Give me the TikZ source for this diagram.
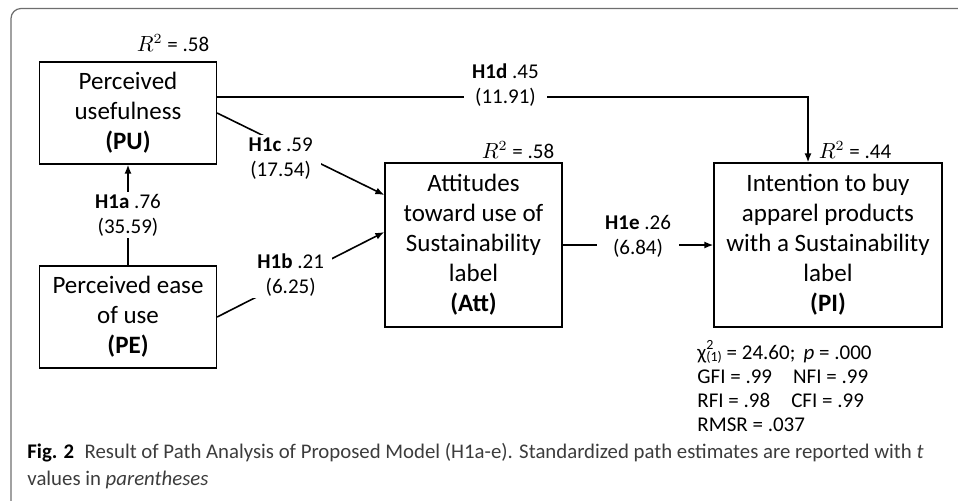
\documentclass[tikz,border=0pt]{standalone}
\usepackage{amsmath}
\usepackage{fontspec}
\setmainfont{Carlito}
\usepackage{tikz}
\usetikzlibrary{arrows.meta,calc}
\definecolor{framegray}{RGB}{110,110,110}
\definecolor{captext}{RGB}{60,60,60}
\tikzset{
  frame/.style={draw=framegray,line width=0.6pt,rounded corners=5pt},
  construct/.style={draw=black,line width=0.6pt,align=center,inner sep=0pt,
                    minimum width=88.5pt,minimum height=51pt,
                    font=\fontsize{12.5}{15}\selectfont},
  tall/.style={construct,minimum height=82pt},
  path/.style={black,line width=0.8pt,-{Latex[length=4.5pt,width=3.5pt]}},
  est/.style={fill=white,align=center,inner xsep=4pt,inner ysep=1pt,
              font=\fontsize{10.5}{12.5}\selectfont},
  rsq/.style={font=\fontsize{10.5}{12.5}\selectfont},
}
\begin{document}
\begin{tikzpicture}[x=0.5pt,y=-0.5pt]
  \path[use as bounding box] (0,0) rectangle (958,500);
  \draw[frame] (11,8.5) rectangle (1000,540);

  % constructs
  \node[construct] (PU) at (128,113) {Perceived\\usefulness\\\textbf{(PU)}};
  \node[construct] (PE) at (128,317) {Perceived ease\\of use\\\textbf{(PE)}};
  \node[tall] (Att) at (473.5,245)
    {Attitudes\\toward use of\\Sustainability\\label\\\textbf{(Att)}};
  \node[tall,minimum width=114pt] (PI) at (828,245)
    {Intention to buy\\apparel products\\with a Sustainability\\label\\\textbf{(PI)}};

  \node[rsq] (rPU) at (173,43) {$R^2$ = .58};
  \node[rsq] (rAtt) at (518,150) {$R^2$ = .58};
  \node[rsq] (rPI) at (855,150) {$R^2$ = .44};

  % paths
  \draw[path] (PE.north) -- (PU.south)
    node[est,midway] {\textbf{H1a} .76\\(35.59)};
  \draw[path] (PE.east) -- ([yshift=6.5pt]Att.west)
    node[est,pos=0.44,yshift=2.5pt] {\textbf{H1b} .21\\(6.25)};
  \draw[path] (PU.east) -- ([yshift=25pt]Att.west)
    node[est,pos=0.38,yshift=-7pt] {\textbf{H1c} .59\\(17.54)};
  \draw[path] ([yshift=8pt]PU.east) -| ([xshift=-10pt]PI.north)
    node[est,pos=0.244,yshift=6pt] {\textbf{H1d} .45\\(11.91)};
  \draw[path] (Att.east) -- (PI.west)
    node[est,midway,yshift=4.5pt] {\textbf{H1e} .26\\(6.84)};

  % fit
  \node[anchor=west,align=left,inner sep=0pt,font=\fontsize{10.5}{12}\selectfont] (fit) at (697,386)
    {χ\rlap{\raisebox{0.95ex}{\scriptsize 2}}\raisebox{-0.25ex}{\scriptsize (1)} = 24.60;\, \textit{p} = .000\\
     GFI = .99\quad NFI = .99\\
     RFI = .98\quad CFI = .99\\
     RMSR = .037};

  % caption
  \node[anchor=west,align=left,inner sep=0pt,text=captext,font=\fontsize{10.4}{13.5}\selectfont] (cap) at (27,466)
    {\textcolor{black}{\textbf{Fig. 2}}\enspace Result of Path Analysis of Proposed Model (H1a-e). Standardized path estimates are reported with \textit{t}\\
     values in \textit{parentheses}};
\end{tikzpicture}
\end{document}
